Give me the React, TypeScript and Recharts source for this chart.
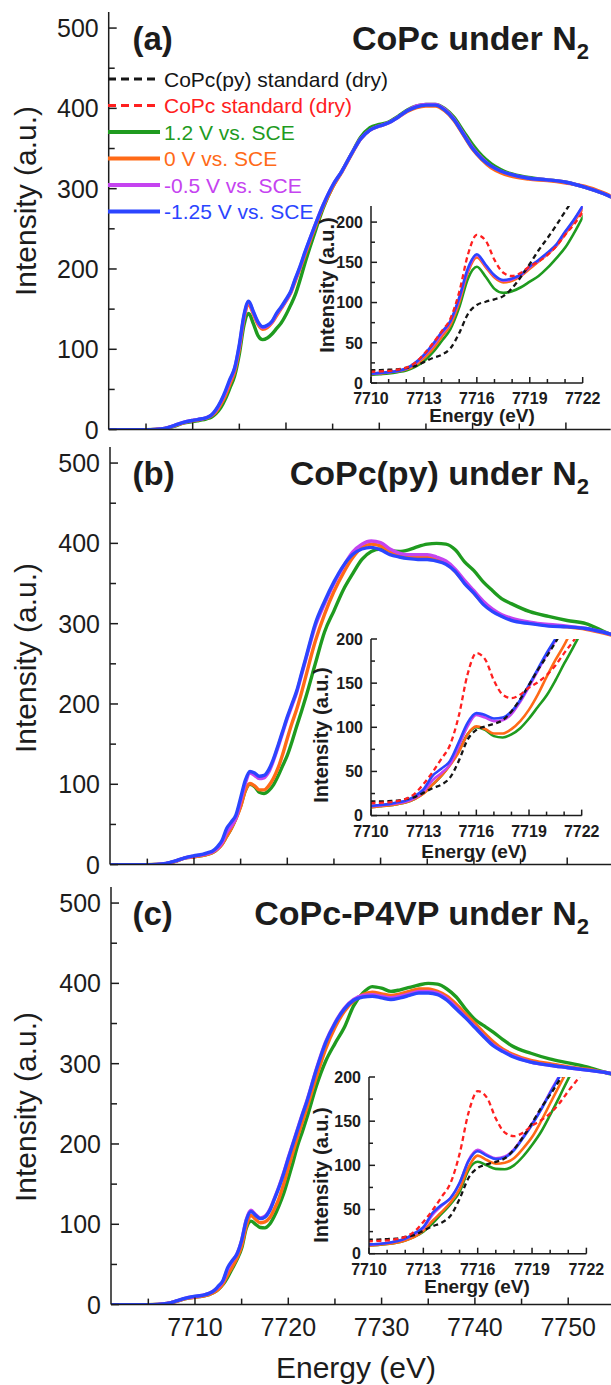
import React from 'react';
import { LineChart, Line, XAxis, YAxis, Legend } from 'recharts';

const FONT = '"Liberation Sans", Arial, Helvetica, sans-serif';
const INK = '#1c1c1c';

// photon energy (eV) shared by the measured spectra
const energy = [
    7701, 7703, 7705, 7706, 7707, 7708, 7709,
    7710, 7710.5, 7711, 7711.5, 7712, 7712.5, 7713, 7713.5, 7714, 7714.5, 7715, 7715.5, 7716,
    7716.5, 7717, 7717.5, 7718, 7718.5, 7719, 7719.5, 7720, 7720.5, 7721, 7721.5, 7722,
    7723, 7724, 7725, 7726, 7727, 7728, 7729, 7730, 7731, 7732, 7733, 7734, 7735, 7736, 7737,
    7738, 7739, 7740, 7741, 7742, 7743, 7744,
    7746, 7748, 7750, 7752, 7754, 7755,
];

// dry standards, only shown in the insets
const stdEnergy = [
    7709, 7710, 7710.5, 7711, 7711.5, 7712, 7712.5, 7713, 7713.5, 7714, 7714.5, 7715, 7715.5,
    7716, 7716.5, 7717, 7717.5, 7718, 7718.5, 7719, 7719.5, 7720, 7720.5, 7721, 7721.5, 7722, 7723,
];
const pyStandard = [15, 16, 16, 16.5, 17, 19, 21, 26, 31, 35, 43, 62, 86, 97, 101, 104, 108, 118, 132, 148, 165, 180, 196, 213, 230, 248, 285];
const copcStandard = [13, 14, 14.5, 15, 16.5, 19, 25, 36, 49, 64, 80, 113, 160, 184, 177, 153, 137, 133, 137, 145, 151, 159, 170, 184, 197, 212, 245];

// (a) CoPc under N2
const aGreen = [
    0, 0, 0, 0.2, 1.2, 4, 8,
    10, 11, 12, 13.5, 15.5, 20, 27, 38, 52, 67, 94, 130, 144.5, 132, 117, 112, 114, 119, 126, 133, 143, 155, 168, 186, 206,
    242, 276, 302, 322, 343, 364, 376, 380, 383, 390, 398, 403, 405, 405, 400, 389, 372, 355, 341, 331, 324, 319,
    314, 311, 308, 302, 294, 289,
];
const aOrange = [
    0, 0, 0, 0.3, 1.3, 4.5, 8.5,
    11, 12, 13, 14.5, 17, 22, 31, 42, 57, 72, 100, 138, 156, 144, 131, 125, 127, 133, 142, 151, 160, 170, 185, 200, 216,
    248, 278, 302, 321, 342, 362, 373, 378, 382, 389, 396, 401, 403, 403, 397, 385, 367, 349, 336, 326, 320, 316,
    312, 310, 307, 303, 295, 290,
];
const aPurple = [
    0, 0, 0, 0.3, 1.5, 5, 9,
    11.5, 12.5, 13.5, 15, 18, 24, 34, 46, 61, 76, 104, 141, 159, 146, 133, 127, 129, 134, 144, 152, 161, 171, 187, 202, 219,
    251, 280, 304, 322, 343, 362, 373, 378, 382, 389, 397, 403, 405, 405, 399, 387, 369, 351, 338, 328, 322, 318,
    313, 311, 308, 302, 294, 289,
];
const aBlue = [
    0, 0, 0, 0.3, 1.5, 5, 9,
    11.5, 12.5, 13.5, 15, 18, 25, 35, 48, 63, 77, 106, 143, 160, 147, 134, 128, 130, 135, 145, 153, 162, 172, 188, 203, 220,
    251, 280, 304, 322, 343, 362, 373, 378, 382, 389, 397, 402, 404, 404, 398, 386, 368, 350, 337, 328, 322, 318,
    313, 311, 308, 302, 294, 289,
];

// (b) CoPc(py) under N2
const bGreen = [
    0, 0, 0, 0.2, 1.2, 4, 8,
    9.5, 10.5, 11.5, 13, 15, 19, 25.5, 35, 45, 58, 73, 92, 100, 97, 90, 88.5, 92, 99, 110, 123, 136, 153, 172, 190, 209,
    250, 290, 316, 342, 362, 380, 390, 393, 391, 390, 392, 396, 399, 400, 399, 392, 377, 366, 352, 341, 331, 325,
    315, 309, 304, 300, 290, 285,
];
const bOrange = [
    0, 0, 0, 0.2, 1.2, 4, 8,
    9.5, 10.5, 11.5, 13, 15, 19, 25, 35, 45, 57, 72, 92, 101, 98, 93, 93, 98, 107, 120, 137, 157, 176, 193, 213, 235,
    278, 312, 340, 363, 382, 395, 399, 397, 390, 385, 384, 384, 383, 380, 375, 365, 351, 338, 325, 316, 310, 306,
    301, 298, 296, 293, 288, 285,
];
const bPurple = [
    0, 0, 0, 0.3, 1.4, 4.3, 8.2,
    10.5, 11.5, 12.5, 14, 16, 20, 27, 40, 48, 58, 79, 101, 114, 111, 107, 108, 115, 129, 146, 164, 182, 198, 214, 235, 256,
    297, 325, 350, 371, 389, 399, 403, 401, 393, 388, 386, 386, 386, 383, 378, 368, 354, 341, 328, 318, 311, 307,
    302, 299, 297, 294, 289, 286,
];
const bBlue = [
    0, 0, 0, 0.3, 1.5, 4.5, 8.5,
    11, 12, 13, 15, 17, 22, 30, 45, 53, 62, 83, 105, 116, 114, 110, 111, 118, 131, 148, 166, 184, 200, 216, 237, 258,
    300, 328, 352, 372, 386, 393, 395, 392, 386, 383, 381, 380, 380, 378, 374, 365, 350, 338, 324, 315, 309, 304,
    300, 297, 296, 294, 289, 286,
];

// (c) CoPc-P4VP under N2
const cGreen = [
    0, 0, 0, 0.2, 1.2, 4, 7.5,
    9.5, 10, 11, 12.5, 15, 19, 25, 34, 45, 56, 70, 95, 104, 100, 96, 95.5, 100, 110, 123, 138, 157, 177, 198, 215, 233,
    272, 303, 325, 345, 372, 388, 396, 394, 390, 392, 395, 398, 400, 399, 393, 383, 368, 355, 347, 339, 330, 322,
    313, 306, 301, 296, 289, 286,
];
const cOrange = [
    0, 0, 0, 0.2, 1.3, 4, 7.5,
    9, 10, 11, 12.5, 15, 19, 26, 37, 47, 58, 73, 98, 111, 106, 102, 103, 108, 119, 132, 150, 170, 190, 209, 227, 245,
    283, 318, 345, 365, 378, 386, 389, 387, 385, 387, 390, 393, 393, 390, 384, 374, 362, 350, 338, 327, 318, 312,
    304, 300, 296, 293, 289, 287,
];
const cPurple = [
    0, 0, 0, 0.3, 1.5, 4.5, 8,
    10, 11, 12, 14, 17, 22, 29, 44, 54, 63, 80, 106, 117.5, 112, 108, 110, 118, 132, 147, 164, 183, 201, 219, 237, 254,
    293, 327, 351, 369, 380, 385, 386, 384, 382, 384, 387, 390, 390, 388, 381, 370, 358, 346, 334, 323, 316, 310,
    302, 298, 295, 292, 289, 287,
];
const cBlue = [
    0, 0, 0, 0.3, 1.5, 4.5, 8,
    10.5, 11, 12, 14, 17, 23, 30, 46, 55, 63, 80, 105, 116, 111, 107, 109, 117, 131, 146, 163, 182, 200, 218, 236, 253,
    292, 326, 350, 368, 379, 383, 384, 382, 380, 382, 385, 388, 388, 386, 379, 368, 357, 345, 333, 322, 315, 309,
    302, 298, 295, 292, 289, 287,
];

const mainXTicks = [7705, 7710, 7715, 7720, 7725, 7730, 7735, 7740, 7745, 7750];
const mainYTicks = [0, 50, 100, 150, 200, 250, 300, 350, 400, 450, 500];
const insetXTicks = [7710, 7711, 7712, 7713, 7714, 7715, 7716, 7717, 7718, 7719, 7720, 7721, 7722];
const insetYTicks = [0, 25, 50, 75, 100, 125, 150, 175, 200];

const SERIES = [
    { key: 'green', name: '1.2 V vs. SCE', color: '#1f9b1f' },
    { key: 'orange', name: '0 V vs. SCE', color: '#ff6a17' },
    { key: 'purple', name: '-0.5 V vs. SCE', color: '#c543f0' },
    { key: 'blue', name: '-1.25 V vs. SCE', color: '#2b45ff' },
];
const STANDARDS = [
    { key: 'py', name: 'CoPc(py) standard (dry)', color: '#151515' },
    { key: 'copc', name: 'CoPc standard (dry)', color: '#ff2020' },
];

const MAIN_W = 502;
const MAIN_H = 417.6;
const X_DOMAIN: [number, number] = [7701, 7754.8];

const PANELS = [
    {
        tag: '(a)', title: 'CoPc under N', values: [aGreen, aOrange, aPurple, aBlue],
        left: 108.7, top: 11.7, legend: true, xLabels: false,
        inset: { l: 371, t: 205.5, r: 582.7, b: 382.5, yMax: 220 },
        titleY: 50, yLabelY: 201, insetYLabel: [334, 285], insetXLabel: [482, 421.5],
    },
    {
        tag: '(b)', title: 'CoPc(py) under N', values: [bGreen, bOrange, bPurple, bBlue],
        left: 110, top: 447.4, legend: false, xLabels: false,
        inset: { l: 371, t: 638.7, r: 581.7, b: 815.3, yMax: 200 },
        titleY: 485, yLabelY: 658, insetYLabel: [328, 735], insetXLabel: [474, 857.5],
    },
    {
        tag: '(c)', title: 'CoPc-P4VP under N', values: [cGreen, cOrange, cPurple, cBlue],
        left: 111, top: 887.4, legend: false, xLabels: true,
        inset: { l: 369.3, t: 1077, r: 586.7, b: 1253.7, yMax: 200 },
        titleY: 925, yLabelY: 1107, insetYLabel: [328, 1175], insetXLabel: [477, 1293],
    },
];

type Side = 'bottom' | 'top' | 'left' | 'right';
type TickOpts = {
    side: Side;
    isMajor: (v: number) => boolean;
    len: number;
    minorLen: number;
    label?: boolean;
    fontSize?: number;
    bold?: boolean;
    offset?: number;
};

// inward ticks drawn by hand, labels only on majors
const frameTick = (o: TickOpts) => (props: any) => {
    const { x, y, payload } = props;
    const v = payload.value;
    const major = o.isMajor(v);
    const l = major ? o.len : o.minorLen;
    let line = null;
    if (o.side === 'bottom') line = <line x1={x} x2={x} y1={y} y2={y - l} />;
    if (o.side === 'top') line = <line x1={x} x2={x} y1={y} y2={y + l} />;
    if (o.side === 'left') line = <line x1={x} x2={x + l} y1={y} y2={y} />;
    if (o.side === 'right') line = <line x1={x} x2={x - l} y1={y} y2={y} />;
    let text = null;
    if (o.label && major) {
        const common = {
            fontSize: o.fontSize, fontFamily: FONT, fontWeight: o.bold ? 700 : 400, fill: INK,
        };
        text = o.side === 'bottom'
            ? <text x={x} y={y + (o.offset || 0)} textAnchor="middle" {...common}>{v}</text>
            : <text x={x - (o.offset || 0)} y={y} dy="0.36em" textAnchor="end" {...common}>{v}</text>;
    }
    return (
        <g>
            <g stroke={INK} strokeWidth={1.5}>{line}</g>
            {text}
        </g>
    );
};

const LEGEND = [
    { ...STANDARDS[0], dashed: true },
    { ...STANDARDS[1], dashed: true },
    ...SERIES.map((s) => ({ ...s, dashed: false })),
];

const LegendBox = () => (
    <svg width={290} height={165} style={{ display: 'block', overflow: 'visible' }}>
        {LEGEND.map((s, i) => {
            const y = 13 + i * 26.5;
            return (
                <g key={s.name}>
                    <line
                        x1={0} x2={52} y1={y} y2={y}
                        stroke={s.color}
                        strokeWidth={s.dashed ? 3 : 4}
                        strokeDasharray={s.dashed ? '8 5' : undefined}
                    />
                    <text x={56} y={y} dy="0.36em" fill={s.color} fontSize={21} fontFamily={FONT}>
                        {s.name}
                    </text>
                </g>
            );
        })}
    </svg>
);

const axisLine = { stroke: INK, strokeWidth: 1.5 };

function MainPanel({ p }: { p: (typeof PANELS)[number] }) {
    const rows = energy.map((e, i) => ({
        e,
        green: p.values[0][i],
        orange: p.values[1][i],
        purple: p.values[2][i],
        blue: p.values[3][i],
    }));
    const xh = p.xLabels ? 40 : 16;
    const xMajor = (v: number) => v % 10 === 0;
    const yMajor = (v: number) => v % 100 === 0;
    return (
        <div style={{ position: 'absolute', left: 0, top: p.top - 2 }}>
            <LineChart
                width={p.left + MAIN_W + 2}
                height={MAIN_H + xh + 2}
                data={rows}
                margin={{ top: 2, right: 2, bottom: 0, left: 0 }}
            >
                <XAxis
                    dataKey="e" type="number" domain={X_DOMAIN} ticks={mainXTicks} interval={0}
                    allowDataOverflow height={xh} tickSize={0} tickMargin={0} axisLine={axisLine} tickLine={false}
                    tick={frameTick({ side: 'bottom', isMajor: xMajor, len: 7, minorLen: 6, label: p.xLabels, fontSize: 25, offset: 31.7 })}
                />
                <XAxis
                    xAxisId="top" orientation="top" dataKey="e" type="number" domain={X_DOMAIN} ticks={mainXTicks}
                    interval={0} allowDataOverflow height={0} tickSize={0} tickMargin={0} axisLine={axisLine}
                    tickLine={false} tick={frameTick({ side: 'top', isMajor: xMajor, len: 7, minorLen: 6 })}
                />
                <YAxis
                    type="number" domain={[0, 520]} ticks={mainYTicks} interval={0} allowDataOverflow width={p.left}
                    tickSize={0} tickMargin={0} axisLine={axisLine} tickLine={false}
                    tick={frameTick({ side: 'left', isMajor: yMajor, len: 8, minorLen: 6, label: true, fontSize: 25, offset: 10 })}
                />
                <YAxis
                    yAxisId="right" orientation="right" type="number" domain={[0, 520]} ticks={mainYTicks} interval={0}
                    allowDataOverflow width={0} tickSize={0} tickMargin={0} axisLine={axisLine} tickLine={false}
                    tick={frameTick({ side: 'right', isMajor: yMajor, len: 8, minorLen: 6 })}
                />
                {SERIES.map((s) => (
                    <Line
                        key={s.key} type="monotone" dataKey={s.key} stroke={s.color} strokeWidth={3.4}
                        dot={false} activeDot={false} isAnimationActive={false}
                    />
                ))}
                {p.legend && (
                    <Legend
                        layout="vertical" align="center" verticalAlign="middle"
                        wrapperStyle={{ left: 108, top: 79 - 13 - (p.top - 2), width: 290 }}
                        content={() => <LegendBox />}
                    />
                )}
            </LineChart>
        </div>
    );
}

function InsetPanel({ p }: { p: (typeof PANELS)[number] }) {
    const g = p.inset;
    const w = g.r - g.l;
    const h = g.b - g.t;
    const rows = energy.map((e, i) => ({
        e,
        green: p.values[0][i],
        orange: p.values[1][i],
        purple: p.values[2][i],
        blue: p.values[3][i],
    }));
    const stdRows = stdEnergy.map((e, i) => ({ e, py: pyStandard[i], copc: copcStandard[i] }));
    const yw = 60;
    const mt = 12;
    const xMajor = (v: number) => (v - 7710) % 3 === 0;
    const yMajor = (v: number) => v % 50 === 0;
    return (
        <>
            <div style={{ position: 'absolute', left: g.l, top: g.t, width: w, height: h, background: '#fff' }} />
            <div style={{ position: 'absolute', left: g.l - yw, top: g.t - mt }}>
                <LineChart width={yw + w + 24} height={h + mt + 30} data={rows} margin={{ top: mt, right: 24, bottom: 0, left: 0 }}>
                    <XAxis
                        dataKey="e" type="number" domain={[7710, 7722]} ticks={insetXTicks} interval={0}
                        allowDataOverflow height={30} tickSize={0} tickMargin={0} axisLine={axisLine} tickLine={false}
                        tick={frameTick({ side: 'bottom', isMajor: xMajor, len: 6, minorLen: 4, label: true, fontSize: 16, bold: true, offset: 21.5 })}
                    />
                    <XAxis
                        xAxisId="top" orientation="top" dataKey="e" type="number" domain={[7710, 7722]} ticks={insetXTicks}
                        interval={0} allowDataOverflow height={0} tickSize={0} tickMargin={0} axisLine={axisLine}
                        tickLine={false} tick={frameTick({ side: 'top', isMajor: xMajor, len: 6, minorLen: 4 })}
                    />
                    <YAxis
                        type="number" domain={[0, g.yMax]} ticks={insetYTicks} interval={0} allowDataOverflow width={yw}
                        tickSize={0} tickMargin={0} axisLine={axisLine} tickLine={false}
                        tick={frameTick({ side: 'left', isMajor: yMajor, len: 6, minorLen: 4, label: true, fontSize: 16, bold: true, offset: 8 })}
                    />
                    <YAxis
                        yAxisId="right" orientation="right" type="number" domain={[0, g.yMax]} ticks={insetYTicks}
                        interval={0} allowDataOverflow width={0} tickSize={0} tickMargin={0} axisLine={axisLine}
                        tickLine={false} tick={frameTick({ side: 'right', isMajor: yMajor, len: 6, minorLen: 4 })}
                    />
                    {SERIES.map((s) => (
                        <Line
                            key={s.key} type="monotone" dataKey={s.key} stroke={s.color} strokeWidth={2.6}
                            dot={false} activeDot={false} isAnimationActive={false}
                        />
                    ))}
                    {STANDARDS.map((s) => (
                        <Line
                            key={s.key} data={stdRows} type="monotone" dataKey={s.key} stroke={s.color} strokeWidth={2.3}
                            strokeDasharray="5 3.5" dot={false} activeDot={false} isAnimationActive={false}
                        />
                    ))}
                </LineChart>
            </div>
        </>
    );
}

function Texts() {
    return (
        <svg
            width={611} height={1385}
            style={{ position: 'absolute', left: 0, top: 0, pointerEvents: 'none' }}
            fontFamily={FONT} fill={INK}
        >
            {PANELS.map((p) => (
                <g key={p.tag}>
                    <text
                        transform={`translate(36, ${p.yLabelY}) rotate(-90)`}
                        textAnchor="middle" fontSize={30}
                    >
                        Intensity (a.u.)
                    </text>
                    <text x={132.5} y={p.titleY} fontSize={33} fontWeight={700}>{p.tag}</text>
                    <text x={589} y={p.titleY} fontSize={34} fontWeight={700} textAnchor="end">
                        {p.title}
                        <tspan fontSize={22} dy={9}>2</tspan>
                    </text>
                    <text
                        transform={`translate(${p.insetYLabel[0]}, ${p.insetYLabel[1]}) rotate(-90)`}
                        textAnchor="middle" fontSize={20} fontWeight={700}
                    >
                        Intensity (a.u.)
                    </text>
                    <text x={p.insetXLabel[0]} y={p.insetXLabel[1]} textAnchor="middle" fontSize={19} fontWeight={700}>
                        Energy (eV)
                    </text>
                </g>
            ))}
            <text x={356} y={1378} textAnchor="middle" fontSize={30}>Energy (eV)</text>
        </svg>
    );
}

export default function App() {
    return (
        <div
            style={{
                position: 'absolute', left: 0, top: 0, width: 611, height: 1385,
                overflow: 'hidden', background: '#fff', fontFamily: FONT,
            }}
        >
            {PANELS.map((p) => (
                <React.Fragment key={p.tag}>
                    <MainPanel p={p} />
                    <InsetPanel p={p} />
                </React.Fragment>
            ))}
            <Texts />
        </div>
    );
}
